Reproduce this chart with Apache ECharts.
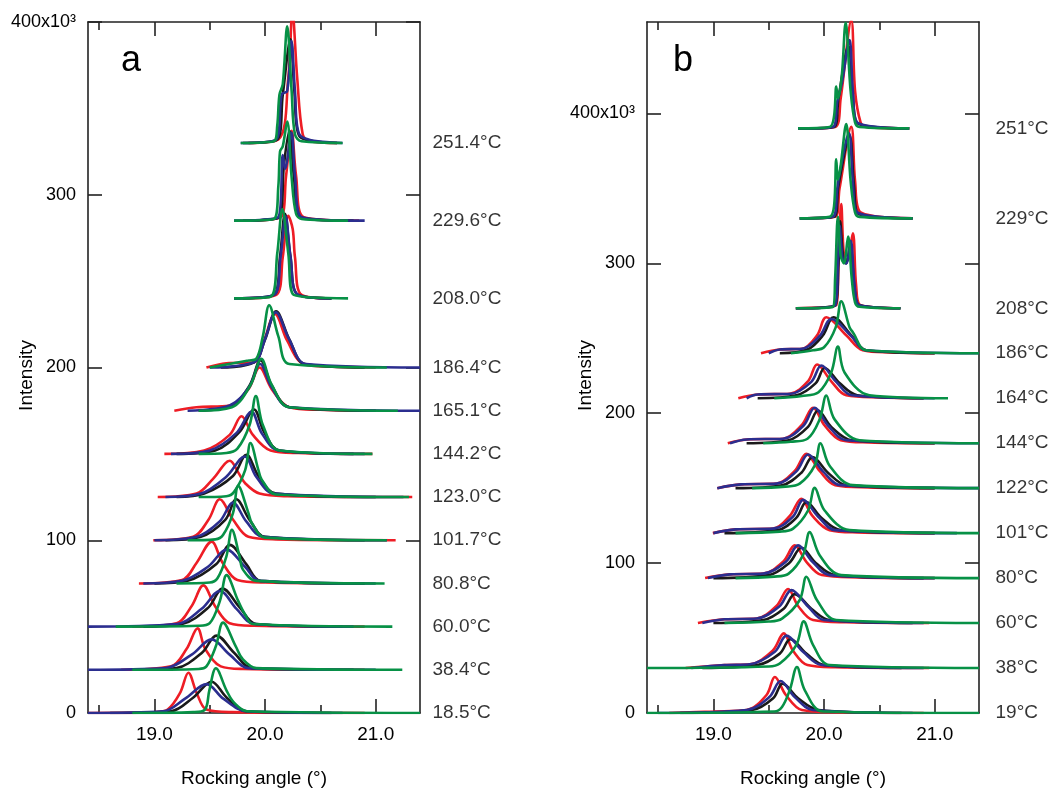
<!DOCTYPE html>
<html lang="en">
<head>
  <meta charset="UTF-8" />
  <title>Rocking curves a / b</title>
  <script src="https://cdn.jsdelivr.net/npm/echarts/dist/echarts.min.js"></script>
  <style>
    body { margin: 0; background: #fff; }
    #chart { width: 1061px; height: 790px; }
  </style>
</head>
<body>
<div id="chart"></div>
<script>
  // rocking angle range shared by both panels
  const xMin = 18.4;
  const xMax = 21.4;
  const majorTicks = [19.0, 20.0, 21.0];
  const minorTicks = [18.5, 19.5, 20.5];
  const yTicks = [0, 100, 200, 300, 400];

  // ---------- panel a ----------
  const tempsA = ['18.5°C', '38.4°C', '60.0°C', '80.8°C', '101.7°C', '123.0°C',
                  '144.2°C', '165.1°C', '186.4°C', '208.0°C', '229.6°C', '251.4°C'];
  // vertical offset of each curve group (x10^3)
  const offsetsA = [0, 25, 50, 75, 100, 125, 150, 175, 200, 240, 285, 330];

  // each curve: [angle, intensity above its baseline (x10^3)]
  const redA = [
    [[18.4,0],[19.0,0.5],[19.12,2],[19.232,11.6],[19.307,23.3],[19.382,11.6],[19.47,2],[19.7,0.5],[20.9,0]],
    [[18.7,0],[19.15,2],[19.29,12],[19.39,24],[19.46,12],[19.6,2],[19.8,0.5],[20.9,0]],
    [[18.8,0],[19.2,2],[19.337,12],[19.442,23.9],[19.547,12],[19.68,2],[19.9,0.5],[20.9,0]],
    [[18.86,0],[19.25,2],[19.382,12],[19.517,24.2],[19.616,12],[19.75,2],[20.0,0.5],[20.9,0]],
    [[18.99,0],[19.35,2],[19.49,12],[19.59,23.7],[19.71,12],[19.85,2],[20.1,0.5],[21.18,0]],
    [[19.03,0],[19.38,2],[19.53,10.5],[19.682,21],[19.76,14],[19.82,8],[19.95,2],[20.2,0.5],[21.33,0]],
    [[19.09,0],[19.45,2],[19.68,11],[19.787,21.8],[19.89,11],[20.05,2],[20.3,0.5],[20.97,0]],
    [[19.18,0],[19.38,2],[19.68,3],[19.85,12.5],[19.95,25],[20.06,12.5],[20.22,2],[20.5,0.5],[21.0,0]],
    [[19.47,0],[19.65,2.5],[19.9,3],[19.99,15.5],[20.09,31],[20.2,15.5],[20.35,2],[20.6,0.5],[21.0,0]],
    [[19.8,0],[20.1,2],[20.16,24],[20.21,47.8],[20.25,40],[20.27,24],[20.33,2],[20.6,0]],
    [[19.8,0],[20.14,2],[20.19,26],[20.24,52],[20.28,26],[20.35,2],[20.85,0]],
    [[19.85,0],[20.12,2],[20.21,38],[20.247,76],[20.29,38],[20.34,5],[20.4,1],[20.65,0]]
  ];
  const blueA = [
    [[18.4,0],[19.08,1],[19.277,8.3],[19.472,16.7],[19.622,8.3],[19.83,1],[20.7,0]],
    [[18.4,0],[19.1,1],[19.337,8.8],[19.517,17.6],[19.68,8.8],[19.85,1],[21.0,0]],
    [[18.4,0],[19.2,1.5],[19.427,10.3],[19.592,20.6],[19.742,10.3],[19.9,1.5],[20.8,0]],
    [[18.9,0],[19.25,1.5],[19.487,9.8],[19.652,19.6],[19.817,9.8],[19.95,1.5],[21.0,0]],
    [[19.0,0],[19.38,2],[19.59,10.9],[19.71,21.8],[19.83,10.9],[19.98,2],[21.1,0]],
    [[19.1,0],[19.42,2],[19.65,11.8],[19.817,23.5],[19.92,11.8],[20.08,2],[21.25,0]],
    [[19.15,0],[19.5,2],[19.74,12],[19.877,24.3],[19.97,12],[20.12,2],[20.9,0]],
    [[19.3,0],[19.68,3],[19.855,13.5],[19.955,27],[20.06,13.5],[20.22,2],[21.4,0]],
    [[19.5,0],[19.9,3],[19.997,16],[20.097,32],[20.22,16],[20.37,2],[21.4,0]],
    [[19.72,0],[20.08,2],[20.14,24],[20.186,47.5],[20.23,24],[20.3,2],[20.6,0]],
    [[19.72,0],[20.12,2],[20.16,38],[20.18,30],[20.238,51],[20.27,26],[20.33,2],[20.9,0]],
    [[19.78,0],[20.1,2],[20.15,28],[20.2,30],[20.238,59],[20.27,30],[20.31,5],[20.7,0]]
  ];
  const blackA = [
    [[18.6,0],[19.15,1],[19.352,9],[19.517,18.1],[19.652,9],[19.83,1],[20.6,0]],
    [[18.9,0],[19.2,1],[19.43,9.9],[19.56,19.8],[19.72,9.9],[19.88,1],[20.8,0]],
    [[18.9,0],[19.25,1.5],[19.487,11],[19.616,22],[19.772,11],[19.92,1.5],[20.7,0]],
    [[19.0,0],[19.3,1.5],[19.56,11.2],[19.682,22.3],[19.83,11.2],[19.96,1.5],[20.9,0]],
    [[19.1,0],[19.42,2],[19.64,11.8],[19.74,23.7],[19.86,11.8],[20.0,2],[20.9,0]],
    [[19.2,0],[19.45,2],[19.71,12.2],[19.832,24.5],[19.94,12.2],[20.1,2],[21.0,0]],
    [[19.2,0],[19.55,2],[19.77,12.8],[19.9,25.7],[19.99,12.8],[20.13,2],[20.8,0]],
    [[19.4,0],[19.7,3],[19.86,14.6],[19.96,29.2],[20.06,14.6],[20.22,2],[21.0,0]],
    [[19.6,0],[19.9,3],[20.0,16.2],[20.1,32.5],[20.22,16.2],[20.36,2],[20.9,0]],
    [[19.72,0],[20.08,2],[20.135,24],[20.18,49],[20.23,24],[20.3,2],[20.6,0]],
    [[19.8,0],[20.13,2],[20.17,32],[20.22,52],[20.26,26],[20.32,2],[20.8,0]],
    [[19.8,0],[20.11,2],[20.16,28],[20.23,60],[20.265,30],[20.31,4],[20.65,0]]
  ];
  const greenA = [
    [[18.8,0],[19.35,0.5],[19.457,2],[19.496,13],[19.556,25.9],[19.652,13],[19.72,6],[19.84,1],[21.4,0]],
    [[18.8,0],[19.4,0.5],[19.47,2],[19.555,13.6],[19.62,27.3],[19.735,13.6],[19.8,6],[19.92,1],[21.24,0]],
    [[18.65,0],[19.4,0.5],[19.5,2],[19.592,14.9],[19.652,29.8],[19.757,14.9],[19.82,7],[19.89,1.5],[21.15,0]],
    [[19.2,0],[19.5,0.5],[19.57,3],[19.65,15.5],[19.70,31],[19.77,15.5],[19.8,8],[19.92,1.5],[21.08,0]],
    [[19.3,0],[19.55,0.5],[19.62,3],[19.71,15.7],[19.757,31.5],[19.85,15.7],[19.88,10],[20.0,1.5],[21.1,0]],
    [[19.4,0],[19.65,0.5],[19.72,3],[19.82,15.6],[19.868,31.3],[19.94,15.6],[19.97,10],[20.1,1.5],[21.3,0]],
    [[19.4,0],[19.65,0.5],[19.75,3],[19.86,16.7],[19.917,33.5],[19.98,16.7],[20.13,2],[20.97,0]],
    [[19.4,0],[19.7,2],[19.87,15],[19.965,30],[20.06,15],[20.22,2],[21.2,0]],
    [[19.5,0],[19.85,4],[19.92,5],[19.98,18],[20.037,36],[20.12,18],[20.22,2],[21.1,0]],
    [[19.72,0],[20.05,1],[20.11,26],[20.156,51.7],[20.21,26],[20.26,2],[20.75,0]],
    [[19.72,0],[20.08,1],[20.12,20],[20.135,40],[20.16,43],[20.2,57.4],[20.24,25],[20.28,4],[20.33,1],[20.75,0]],
    [[19.78,0],[20.08,1],[20.11,10],[20.13,28],[20.16,34],[20.2,67.5],[20.24,30],[20.27,5],[20.33,1],[20.7,0]]
  ];

  // ---------- panel b ----------
  const tempsB = ['19°C', '38°C', '60°C', '80°C', '101°C', '122°C',
                  '144°C', '164°C', '186°C', '208°C', '229°C', '251°C'];
  const offsetsB = [0, 30, 60, 90, 120, 150, 180, 210, 240, 270, 330, 390];

  const redB = [
    [[18.6,0],[19.0,1],[19.3,2],[19.48,12],[19.555,24],[19.655,12],[19.8,2],[20.1,0.5],[20.9,0]],
    [[18.75,0],[19.1,2],[19.33,2.5],[19.535,11.5],[19.636,23.1],[19.72,11.5],[19.85,2],[20.1,0.5],[20.95,0]],
    [[18.86,0],[19.1,2.5],[19.39,3],[19.57,11.4],[19.675,22.7],[19.765,11.4],[19.9,2],[20.2,0.5],[20.95,0]],
    [[18.925,0],[19.15,2.5],[19.45,3],[19.63,10.9],[19.735,21.8],[19.84,10.9],[19.98,2],[20.3,0.5],[21.0,0]],
    [[18.995,0],[19.2,2.5],[19.54,3],[19.69,11.5],[19.795,22.9],[19.895,11.5],[20.05,2],[20.3,0.5],[21.0,0]],
    [[19.035,0],[19.25,2.5],[19.57,3],[19.735,11.5],[19.84,22.9],[19.96,11.5],[20.1,2],[20.4,0.5],[21.0,0]],
    [[19.13,0],[19.3,2.5],[19.63,3],[19.795,11.8],[19.9,23.6],[20.005,11.8],[20.15,2],[20.4,0.5],[21.0,0]],
    [[19.225,0],[19.4,2.5],[19.69,3],[19.855,11.3],[19.937,22.5],[20.065,11.3],[20.2,2],[20.5,0.5],[20.9,0]],
    [[19.43,0],[19.6,2.5],[19.8,3],[19.937,12],[20.02,24],[20.2,12],[20.35,2],[20.6,0.5],[21.0,0]],
    [[19.745,0],[20.11,2],[20.13,30],[20.155,69.6],[20.18,35],[20.21,32],[20.26,50],[20.29,15],[20.33,2],[20.69,0]],
    [[19.78,0],[20.1,1],[20.14,20],[20.246,61],[20.28,25],[20.33,4],[20.8,0]],
    [[19.765,0],[20.1,1],[20.15,20],[20.246,72],[20.28,25],[20.33,4],[20.38,1],[20.77,0]]
  ];
  const blueB = [
    [[18.5,0],[19.3,2],[19.505,10.6],[19.607,21.3],[19.735,10.6],[19.9,2],[20.8,0]],
    [[18.8,0],[19.1,2],[19.33,2.5],[19.555,10.8],[19.66,21.6],[19.81,10.8],[19.98,2],[20.9,0]],
    [[18.9,0],[19.1,2.5],[19.39,3],[19.595,11],[19.705,22],[19.855,11],[20.0,2],[20.9,0]],
    [[18.95,0],[19.15,2.5],[19.45,3],[19.655,10.9],[19.765,21.8],[19.895,10.9],[20.05,2],[21.0,0]],
    [[19.0,0],[19.2,2.5],[19.54,3],[19.72,11.1],[19.81,22.2],[19.945,11.1],[20.1,2],[21.2,0]],
    [[19.035,0],[19.25,2.5],[19.57,3],[19.75,11.2],[19.855,22.5],[19.99,11.2],[20.15,2],[21.4,0]],
    [[19.15,0],[19.3,2.5],[19.63,3],[19.815,11.8],[19.915,23.6],[20.035,11.8],[20.2,2],[21.4,0]],
    [[19.3,0],[19.4,2.5],[19.7,3],[19.885,10.9],[19.975,21.8],[20.11,10.9],[20.25,2],[21.0,0]],
    [[19.5,0],[19.6,2.5],[19.8,3],[19.96,11.5],[20.065,22.9],[20.245,11.5],[20.38,2],[21.4,0]],
    [[19.745,0],[20.1,2],[20.125,30],[20.14,55],[20.17,32],[20.2,30],[20.24,45],[20.28,12],[20.32,2],[20.69,0]],
    [[19.78,0],[20.08,1],[20.12,20],[20.14,30],[20.225,56.7],[20.26,25],[20.3,4],[20.8,0]],
    [[19.765,0],[20.08,1],[20.12,18],[20.16,30],[20.23,59],[20.26,25],[20.3,4],[20.77,0]]
  ];
  const blackB = [
    [[18.7,0],[19.35,2],[19.54,9.8],[19.625,19.6],[19.765,9.8],[19.95,2],[20.7,0]],
    [[18.9,0],[19.4,2],[19.6,9.6],[19.696,19.3],[19.84,9.6],[20.0,2],[20.7,0]],
    [[19.0,0],[19.45,2],[19.635,9.6],[19.735,19.3],[19.885,9.6],[20.05,2],[20.8,0]],
    [[19.0,0],[19.5,2],[19.685,10.1],[19.795,20.2],[19.925,10.1],[20.1,2],[20.9,0]],
    [[19.1,0],[19.58,2],[19.75,10.3],[19.84,20.7],[19.975,10.3],[20.15,2],[21.0,0]],
    [[19.2,0],[19.62,2],[19.795,10.3],[19.895,20.7],[20.035,10.3],[20.2,2],[21.0,0]],
    [[19.3,0],[19.68,2],[19.855,10.9],[19.945,21.8],[20.065,10.9],[20.25,2],[21.0,0]],
    [[19.4,0],[19.75,2],[19.925,10.1],[20.005,20.2],[20.14,10.1],[20.3,2],[20.9,0]],
    [[19.6,0],[19.85,2.5],[19.99,12],[20.085,24],[20.245,12],[20.38,2],[21.0,0]],
    [[19.745,0],[20.1,2],[20.13,30],[20.145,58],[20.175,32],[20.2,30],[20.235,42],[20.28,10],[20.32,2],[20.69,0]],
    [[19.78,0],[20.09,1],[20.13,22],[20.23,55],[20.27,22],[20.31,3],[20.8,0]],
    [[19.765,0],[20.09,1],[20.13,20],[20.22,55],[20.26,22],[20.31,3],[20.77,0]]
  ];
  const greenB = [
    [[18.4,0],[19.55,1],[19.62,4],[19.69,15.3],[19.755,30.7],[19.825,15.3],[19.99,1],[21.4,0]],
    [[18.4,0],[19.5,1],[19.6,3],[19.75,15.5],[19.816,31.1],[19.9,15.5],[20.05,2],[21.4,0]],
    [[19.1,0],[19.5,1],[19.62,3],[19.78,15.4],[19.84,30.9],[19.935,15.4],[20.11,2],[21.4,0]],
    [[19.2,0],[19.55,1],[19.68,3],[19.81,15.3],[19.87,30.7],[19.96,15.3],[20.155,2],[21.4,0]],
    [[19.2,0],[19.6,1],[19.72,3],[19.855,15.1],[19.915,30.2],[20.005,15.1],[20.23,2],[21.4,0]],
    [[19.35,0],[19.65,1],[19.78,3],[19.915,15],[19.967,30],[20.05,15],[20.26,2],[21.4,0]],
    [[19.45,0],[19.7,1],[19.85,3],[19.96,15.9],[20.02,31.8],[20.095,15.9],[20.32,2],[21.4,0]],
    [[19.55,0],[19.8,1.5],[19.95,4],[20.065,17.2],[20.125,34.5],[20.185,17.2],[20.41,2],[21.12,0]],
    [[19.7,0],[19.9,2],[20.0,4],[20.105,17.3],[20.155,34.7],[20.23,17.3],[20.26,14],[20.38,2],[21.4,0]],
    [[19.745,0],[20.08,1],[20.1,20],[20.125,61],[20.15,35],[20.18,30],[20.217,47.8],[20.25,20],[20.28,4],[20.32,1],[20.69,0]],
    [[19.78,0],[20.05,1],[20.09,8],[20.11,39.4],[20.125,25.6],[20.15,35],[20.2,63],[20.24,25],[20.28,4],[20.32,1],[20.8,0]],
    [[19.765,0],[20.05,1],[20.09,8],[20.11,28],[20.125,20],[20.16,35],[20.195,70.5],[20.24,25],[20.28,4],[20.32,1],[20.77,0]]
  ];

  const colors = { red: '#ee1d25', blue: '#2b2e8f', black: '#1a1a1a', green: '#079146' };
  const ink = '#000';
  const font = "'Liberation Sans', Arial, sans-serif";

  function curveSeries(list, offsets, color, axisIdx, yIdx) {
    return list.map((pts, i) => ({
      type: 'line',
      xAxisIndex: axisIdx,
      yAxisIndex: yIdx,
      data: pts.map(p => [p[0], p[1] + offsets[i]]),
      showSymbol: false,
      smooth: 0.35,
      lineStyle: { color: color, width: 2.6 },
      itemStyle: { color: color },
      silent: true
    }));
  }

  function labelSeries(temps, offsets, axisIdx, yIdx, gap) {
    return {
      type: 'scatter',
      xAxisIndex: axisIdx,
      yAxisIndex: yIdx,
      clip: false,
      symbolSize: 1,
      itemStyle: { color: 'rgba(0,0,0,0)' },
      data: temps.map((t, i) => ({ name: t, value: [xMax, offsets[i]] })),
      label: {
        show: true, position: 'right', distance: gap, formatter: '{b}',
        color: ink, fontSize: 19, fontFamily: font
      },
      silent: true
    };
  }

  function xAxes(grid) {
    const base = { gridIndex: grid, type: 'value', min: xMin, max: xMax, splitLine: { show: false } };
    const line = { show: true, onZero: false, lineStyle: { color: '#222', width: 1.6 } };
    const tickStyle = { color: '#222', width: 1.6 };
    return [
      Object.assign({}, base, {
        position: 'bottom',
        axisLine: line,
        axisTick: { inside: true, length: 14, customValues: majorTicks, lineStyle: tickStyle },
        axisLabel: { customValues: majorTicks, formatter: v => v.toFixed(1), margin: 12,
                     color: ink, fontSize: 19, fontFamily: font },
        name: 'Rocking angle (°)', nameLocation: 'middle', nameGap: 56, nameMoveOverlap: false,
        nameTextStyle: { color: ink, fontSize: 19, fontFamily: font }
      }),
      Object.assign({}, base, {
        position: 'bottom',
        axisLine: { show: false, onZero: false },
        axisTick: { inside: true, length: 8, customValues: minorTicks, lineStyle: tickStyle },
        axisLabel: { show: false }
      }),
      Object.assign({}, base, {
        position: 'top',
        axisLine: line,
        axisTick: { inside: true, length: 14, customValues: majorTicks, lineStyle: tickStyle },
        axisLabel: { show: false }
      }),
      Object.assign({}, base, {
        position: 'top',
        axisLine: { show: false, onZero: false },
        axisTick: { inside: true, length: 8, customValues: minorTicks, lineStyle: tickStyle },
        axisLabel: { show: false }
      })
    ];
  }

  function yAxes(grid, yMax) {
    const base = { gridIndex: grid, type: 'value', min: 0, max: yMax, splitLine: { show: false } };
    const line = { show: true, onZero: false, lineStyle: { color: '#222', width: 1.6 } };
    const tick = { inside: true, length: 14, customValues: yTicks, lineStyle: { color: '#222', width: 1.6 } };
    return [
      Object.assign({}, base, {
        position: 'left',
        axisLine: line,
        axisTick: tick,
        axisLabel: { customValues: yTicks, formatter: v => (v === 400 ? '400x10³' : String(v)), margin: 12,
                     color: ink, fontSize: 18, fontFamily: font },
        name: 'Intensity', nameLocation: 'middle', nameGap: 52, nameMoveOverlap: false,
        nameTextStyle: { color: ink, fontSize: 19, fontFamily: font, padding: [0, 16, 0, 0] }
      }),
      Object.assign({}, base, {
        position: 'right',
        axisLine: line,
        axisTick: tick,
        axisLabel: { show: false }
      })
    ];
  }

  const series = [].concat(
    curveSeries(redA, offsetsA, colors.red, 0, 0),
    curveSeries(blackA, offsetsA, colors.black, 0, 0),
    curveSeries(blueA, offsetsA, colors.blue, 0, 0),
    curveSeries(greenA, offsetsA, colors.green, 0, 0),
    curveSeries(redB, offsetsB, colors.red, 4, 2),
    curveSeries(blackB, offsetsB, colors.black, 4, 2),
    curveSeries(blueB, offsetsB, colors.blue, 4, 2),
    curveSeries(greenB, offsetsB, colors.green, 4, 2),
    [labelSeries(tempsA, offsetsA, 0, 0, 12), labelSeries(tempsB, offsetsB, 4, 2, 16)]
  );

  const chart = echarts.init(document.getElementById('chart'));
  chart.setOption({
    animation: false,
    backgroundColor: '#fff',
    title: [
      { text: 'a', left: 116, top: 38, textStyle: { fontSize: 36, fontWeight: 'normal', color: ink, fontFamily: font } },
      { text: 'b', left: 668, top: 38, textStyle: { fontSize: 36, fontWeight: 'normal', color: ink, fontFamily: font } }
    ],
    grid: [
      { left: 88, top: 22, width: 332, height: 691, outerBoundsMode: 'none' },
      { left: 647, top: 22, width: 332, height: 691, outerBoundsMode: 'none' }
    ],
    xAxis: xAxes(0).concat(xAxes(1)),
    yAxis: yAxes(0, 400).concat(yAxes(1, 461)),
    series: series
  });
</script>
</body>
</html>
